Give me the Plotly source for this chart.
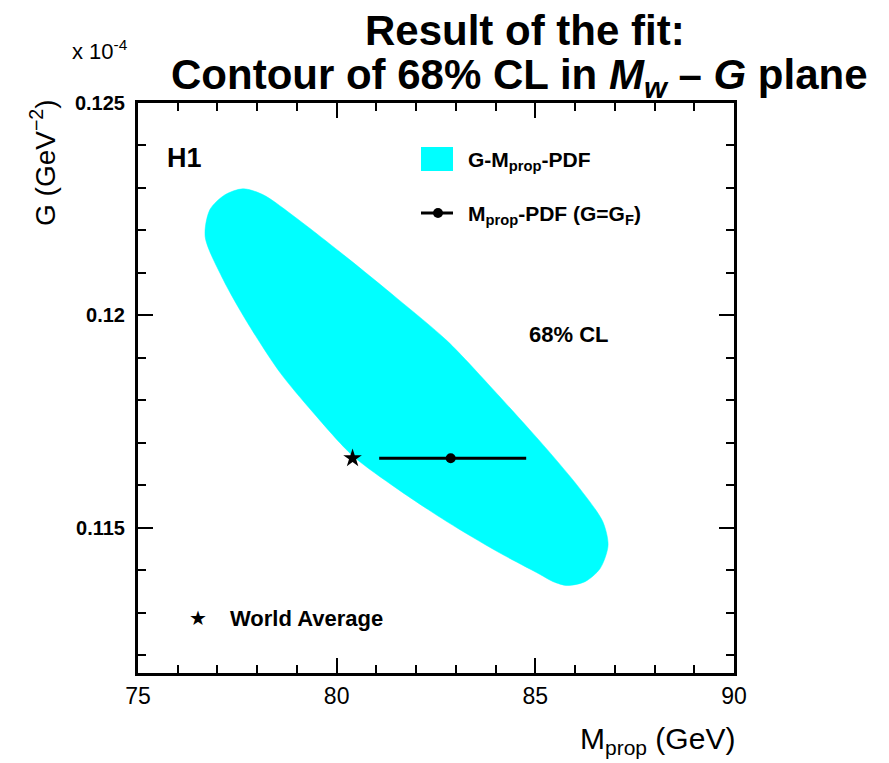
import plotly.graph_objects as go

# ---- data ----
contour_m = [77.64, 78.15, 79.00, 80.26, 81.52, 82.78, 84.04, 85.29, 86.12, 86.70, 86.83, 86.63,
             86.25, 85.80, 85.45, 85.12, 84.04, 82.78, 81.52, 80.41, 79.40, 78.57, 77.74, 77.14,
             76.69, 76.81, 77.19]
contour_g = [0.12298, 0.12284, 0.12228, 0.12136, 0.12040, 0.11940, 0.11815, 0.11685, 0.11592, 0.11514,
             0.11458, 0.11404, 0.11373, 0.11364, 0.11373, 0.11390, 0.11444, 0.11514, 0.11592, 0.11669,
             0.11772, 0.11866, 0.11985, 0.12085, 0.12185, 0.12249, 0.12284]

fit_m = [82.87]
fit_g = [0.116637]
fit_err_plus = [1.90]
fit_err_minus = [1.80]

world_m = [80.40]
world_g = [0.116637]

x_range = [75, 90]
y_range = [0.11158, 0.125]
x_ticks = [75, 80, 85, 90]
y_ticks = [0.115, 0.12, 0.125]
y_ticktext = ["0.115", "0.12", "0.125"]

# ---- layout geometry (pixels) ----
W, H = 889, 763
L, R, T, B = 138, 734, 103, 673
pw, ph = R - L, B - T


def px(x):
    return (x - L) / pw


def py(y):
    return (B - y) / ph


FONT = "Liberation Sans, Arial, sans-serif"

fig = go.Figure()

fig.add_trace(go.Scatter(
    x=contour_m + contour_m[:1], y=contour_g + contour_g[:1],
    mode="lines", fill="toself", fillcolor="#00FFFF",
    line=dict(color="#00FFFF", width=0.5, shape="spline", smoothing=0.8),
    showlegend=False, hoverinfo="skip"))

fig.add_trace(go.Scatter(
    x=fit_m, y=fit_g, mode="markers",
    marker=dict(color="black", size=10, symbol="circle"),
    error_x=dict(type="data", array=fit_err_plus, arrayminus=fit_err_minus,
                 color="black", thickness=3, width=0),
    showlegend=False))

fig.add_trace(go.Scatter(
    x=world_m, y=world_g, mode="markers",
    marker=dict(color="black", size=14, symbol="star"),
    showlegend=False))

axis_common = dict(showgrid=False, zeroline=False, showline=True, linecolor="black",
                   linewidth=3, mirror="ticks", ticks="inside", tickcolor="black",
                   tickwidth=2, ticklen=15)

fig.update_xaxes(range=x_range, tickvals=x_ticks, **axis_common,
                 tickfont=dict(family=FONT, size=23, color="black"),
                 minor=dict(ticks="inside", dtick=1, ticklen=8, tickwidth=2, tickcolor="black"))
fig.update_yaxes(range=y_range, tickvals=y_ticks, ticktext=["<b>%s</b>" % t for t in y_ticktext],
                 **axis_common, ticklabelstandoff=6,
                 tickfont=dict(family=FONT, size=20, color="black"),
                 minor=dict(ticks="inside", dtick=0.001, tick0=0.115, ticklen=8, tickwidth=2,
                            tickcolor="black"))

ann = []


def add(text, x, y, size, xanchor="left", yanchor="middle", bold=False, family=FONT, **kw):
    if bold:
        text = "<b>" + text + "</b>"
    ann.append(dict(text=text, x=px(x), y=py(y), xref="paper", yref="paper",
                    xanchor=xanchor, yanchor=yanchor, showarrow=False,
                    font=dict(family=family, size=size, color="black"), **kw))


add("Result of the fit:", 525, 30, 42, xanchor="center", bold=True)
add("Contour of 68% CL in <i>M<sub>w</sub></i> – <i>G</i> plane", 519, 77, 42, xanchor="center", bold=True)
add("x 10<sup>-4</sup>", 70, 50, 22)
add("G (GeV<sup>−2</sup>)", 43, 163, 28, xanchor="center", textangle=-90)
add("M<sub>prop</sub> (GeV)", 737, 740, 30, xanchor="right")
add("H1", 165, 158, 27, bold=True)
add("G-M<sub>prop</sub>-PDF", 466, 161, 21, bold=True)
add("M<sub>prop</sub>-PDF (G=G<sub>F</sub>)", 466, 215, 21, bold=True)
add("68% CL", 527, 334, 22, bold=True)
add("★", 198, 618, 20, xanchor="center")
add("World Average", 228, 618, 22, bold=True)

shapes = [
    dict(type="rect", xref="paper", yref="paper", x0=px(421), x1=px(453), y0=py(171), y1=py(147),
         fillcolor="#00FFFF", line=dict(width=0)),
    dict(type="line", xref="paper", yref="paper", x0=px(421), x1=px(453), y0=py(213), y1=py(213),
         line=dict(color="black", width=3)),
    dict(type="circle", xref="paper", yref="paper", x0=px(433), x1=px(443), y0=py(218), y1=py(208),
         fillcolor="black", line=dict(width=0)),
]

fig.update_layout(
    width=W, height=H,
    margin=dict(l=L, r=W - R, t=T, b=H - B),
    paper_bgcolor="white", plot_bgcolor="white",
    annotations=ann, shapes=shapes,
    showlegend=False,
)

fig.write_html("out.html")
